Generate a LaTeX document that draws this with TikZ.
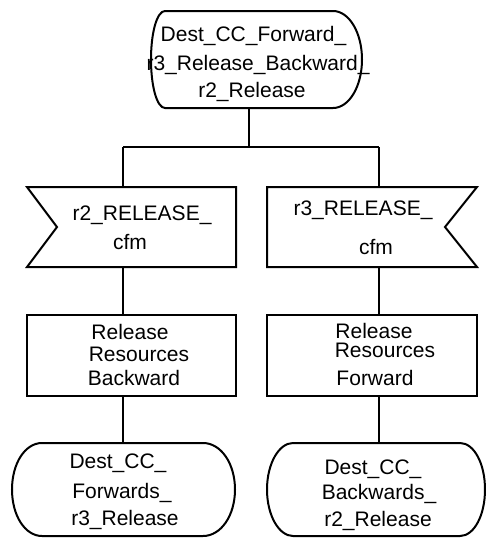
\documentclass[tikz,border=0pt]{standalone}
\usepackage{fontspec}
\setmainfont{Liberation Sans}
\begin{document}
\begin{tikzpicture}[x=1pt,y=-1pt,line width=2pt,line join=miter,
  holder/.style={draw=none,rectangle,inner sep=0pt,outer sep=0pt},
  txt/.style={anchor=base,inner sep=0pt,outer sep=0pt,font=\fontsize{21}{25}\selectfont},
  outline/.style={draw=black,line width=2pt},
  conn/.style={draw=black,line width=2pt}]
\useasboundingbox (0,0) rectangle (485,538);

% ---------- shape holders ----------
\node[holder,minimum width=168pt,minimum height=97pt] (top) at (249,59.5) {};
\node[holder,minimum width=209pt,minimum height=80pt] (in1) at (131.5,227) {};
\node[holder,minimum width=210pt,minimum height=80pt] (in2) at (372,227) {};
\node[holder,minimum width=209pt,minimum height=81pt] (box1) at (131.5,355.5) {};
\node[holder,minimum width=210pt,minimum height=81pt] (box2) at (372,355.5) {};
\node[holder,minimum width=161pt,minimum height=93pt] (bot1) at (122.5,489.5) {};
\node[holder,minimum width=167pt,minimum height=93pt] (bot2) at (376.5,489.5) {};

% ---------- outlines ----------
% top state
\draw[outline] (top.north west) -- (top.north east)
  .. controls +(16,0) and +(0,-27) .. ([xshift=29pt]top.east)
  .. controls +(0,27) and +(16,0) .. (top.south east)
  -- (top.south west)
  .. controls +(-8,0) and +(0,27) .. ([xshift=-14pt]top.west)
  .. controls +(0,-27) and +(-8,0) .. (top.north west) -- cycle;
% input signals
\draw[outline] (in1.north west) -- (in1.north east) -- (in1.south east)
  -- (in1.south west) -- ([xshift=30pt]in1.west) -- cycle;
\draw[outline] (in2.north west) -- (in2.north east) -- ([xshift=-32pt]in2.east)
  -- (in2.south east) -- (in2.south west) -- cycle;
% tasks
\draw[outline] (box1.north west) rectangle (box1.south east);
\draw[outline] (box2.north west) rectangle (box2.south east);
% bottom states
\draw[outline] (bot1.north west) -- (bot1.north east)
  .. controls +(18,0) and +(0,-26) .. ([xshift=32pt]bot1.east)
  .. controls +(0,26) and +(18,0) .. (bot1.south east)
  -- (bot1.south west)
  .. controls +(-17,0) and +(0,26) .. ([xshift=-30pt]bot1.west)
  .. controls +(0,-26) and +(-17,0) .. (bot1.north west) -- cycle;
\draw[outline] (bot2.north west) -- (bot2.north east)
  .. controls +(14,0) and +(0,-26) .. ([xshift=25pt]bot2.east)
  .. controls +(0,26) and +(14,0) .. (bot2.south east)
  -- (bot2.south west)
  .. controls +(-14,0) and +(0,26) .. ([xshift=-26pt]bot2.west)
  .. controls +(0,-26) and +(-14,0) .. (bot2.north west) -- cycle;

% ---------- connectors ----------
\coordinate (jl) at (123,147);
\coordinate (jr) at (379,147);
\draw[conn] (top.south) -- (top.south |- jl);
\draw[conn] (jl) -- (jr);
\draw[conn] (jl) -- (jl |- in1.north);
\draw[conn] (jr) -- (jr |- in2.north);
\draw[conn] (in1.south -| jl) -- (jl |- box1.north);
\draw[conn] (in2.south -| jr) -- (jr |- box2.north);
\draw[conn] (box1.south -| jl) -- (jl |- bot1.north);
\draw[conn] (box2.south -| jr) -- (jr |- bot2.north);

% ---------- texts ----------
\node[txt] (top-1) at (253.5,41) {Dest\_CC\_Forward\_};
\node[txt] (top-2) at (258,70.5) {r3\_Release\_Backward\_};
\node[txt] (top-3) at (252,97.5) {r2\_Release};

\node[txt] (in1-1) at (142,220) {r2\_RELEASE\_};
\node[txt] (in1-2) at (130,249) {cfm};
\node[txt] (in2-1) at (363,215) {r3\_RELEASE\_};
\node[txt] (in2-2) at (376,254) {cfm};

\node[txt] (box1-1) at (130,339.5) {Release};
\node[txt] (box1-2) at (139,361.5) {Resources};
\node[txt] (box1-3) at (134,385.5) {Backward};
\node[txt] (box2-1) at (374,338.5) {Release};
\node[txt] (box2-2) at (385,357.5) {Resources};
\node[txt] (box2-3) at (375,385) {Forward};

\node[txt] (bot1-1) at (118,468.5) {Dest\_CC\_};
\node[txt] (bot1-2) at (122,498.5) {Forwards\_};
\node[txt] (bot1-3) at (125,525.5) {r3\_Release};
\node[txt] (bot2-1) at (373,474.5) {Dest\_CC\_};
\node[txt] (bot2-2) at (379,499) {Backwards\_};
\node[txt] (bot2-3) at (378,526) {r2\_Release};
\end{tikzpicture}
\end{document}
